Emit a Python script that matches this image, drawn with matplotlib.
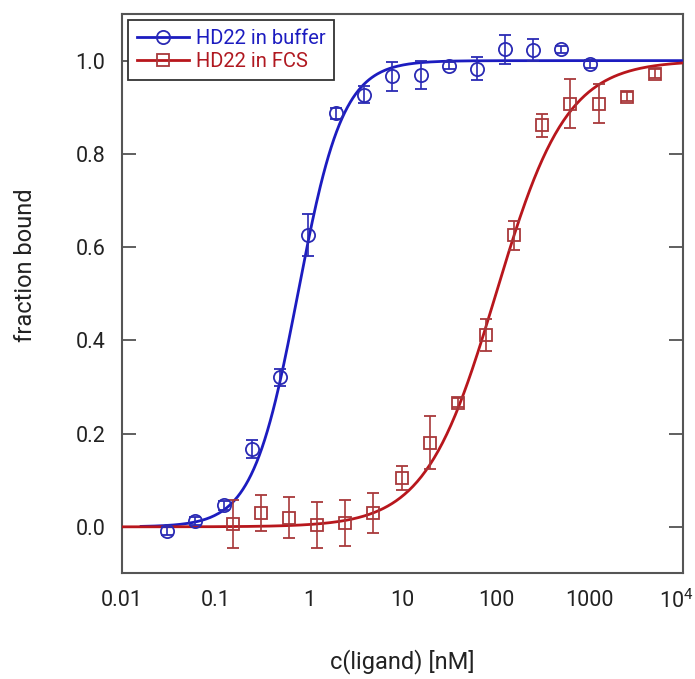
import numpy as np
import matplotlib.pyplot as plt
import matplotlib.transforms as mtransforms
from matplotlib.lines import Line2D
from matplotlib.ticker import FixedLocator, FixedFormatter, NullLocator

plt.rcParams['font.family'] = ['Roboto', 'DejaVu Sans']
plt.rcParams['mathtext.default'] = 'regular'

# measured points (dilution series)
conc_buffer = [0.0305, 0.061, 0.122, 0.244, 0.488, 0.977, 1.95, 3.9, 7.8, 15.6,
               31.25, 62.5, 125, 250, 500, 1000]
frac_buffer = [-0.009, 0.013, 0.046, 0.167, 0.321, 0.625, 0.887, 0.927, 0.966, 0.970,
               0.989, 0.983, 1.024, 1.023, 1.024, 0.993]
err_buffer = [0.008, 0.008, 0.010, 0.019, 0.018, 0.045, 0.012, 0.018, 0.031, 0.030,
              0.008, 0.025, 0.031, 0.023, 0.008, 0.008]

conc_fcs = [0.153, 0.305, 0.61, 1.22, 2.44, 4.88, 9.77, 19.5, 39, 78,
            156, 312, 625, 1250, 2500, 5000]
frac_fcs = [0.006, 0.030, 0.019, 0.004, 0.008, 0.030, 0.105, 0.180, 0.266, 0.411,
            0.625, 0.861, 0.908, 0.908, 0.923, 0.972]
err_fcs = [0.051, 0.039, 0.044, 0.050, 0.049, 0.043, 0.025, 0.057, 0.010, 0.034,
           0.031, 0.025, 0.052, 0.042, 0.010, 0.010]

# Hill fit parameters (K in nM, n)
K_buffer, n_buffer = 0.76, 1.8
K_fcs, n_fcs = 100.0, 1.15

xticks = [0.01, 0.1, 1, 10, 100, 1000, 1e4]
xticklabels = ['0.01', '0.1', '1', '10', '100', '1000', '10$^4$']
yticks = [0.0, 0.2, 0.4, 0.6, 0.8, 1.0]

blue = '#1c1cc0'
blue_pt = '#2a2ab4'
red = '#b8161c'
red_pt = '#a8383a'


def hill(c, K, n):
    return c**n / (K**n + c**n)


fig = plt.figure(figsize=(6.95, 6.79), dpi=100)
ax = fig.add_axes([122/695, 106/679, 561/695, 559/679])

xb = np.logspace(np.log10(0.016), 4, 400)
xr = np.logspace(-2, 4, 400)
ax.plot(xb, hill(xb, K_buffer, n_buffer), color=blue, lw=2.0, zorder=3)
ax.plot(xr, hill(xr, K_fcs, n_fcs), color=red, lw=2.0, zorder=3)

ax.errorbar(conc_buffer, frac_buffer, yerr=err_buffer, fmt='o', ms=9.5, mfc='none',
            mec=blue_pt, mew=1.3, ecolor=blue_pt, elinewidth=1.2, capsize=4, zorder=4)
ax.errorbar(conc_fcs, frac_fcs, yerr=err_fcs, fmt='s', ms=9, mfc='none',
            mec=red_pt, mew=1.3, ecolor=red_pt, elinewidth=1.2, capsize=4, zorder=4)

ax.set_xscale('log')
ax.set_xlim(0.01, 1e4)
ax.set_ylim(-0.099, 1.100)

ax.xaxis.set_major_locator(FixedLocator(xticks))
ax.xaxis.set_major_formatter(FixedFormatter(xticklabels))
ax.xaxis.set_minor_locator(NullLocator())
ax.set_yticks(yticks)
ax.set_yticklabels([f'{v:.1f}' for v in yticks])

ax.tick_params(axis='x', which='both', length=0, pad=12, labelsize=15.5, labelcolor='#222222')
ax.tick_params(axis='y', direction='in', length=10, width=1.2, color='#444444',
               right=True, pad=12, labelsize=15.5, labelcolor='#222222')
for s in ax.spines.values():
    s.set_color('#555555')
    s.set_linewidth(1.5)

# keep the 10^4 label inside the figure like the reference
last = ax.get_xticklabels()[-1]
last.set_transform(last.get_transform() +
                   mtransforms.ScaledTranslation(-7/100, 0, fig.dpi_scale_trans))

ax.set_xlabel('c(ligand) [nM]', fontsize=17, color='#222222')
ax.set_ylabel('fraction bound', fontsize=17, color='#222222')
ax.xaxis.set_label_coords(0.499, -0.136)
ax.yaxis.set_label_coords(-0.152, 0.55)

handles = [Line2D([], [], color=blue, lw=2.0, marker='o', ms=9.5, mfc='none', mec=blue_pt, mew=1.3),
           Line2D([], [], color=red, lw=2.0, marker='s', ms=9, mfc='none', mec=red_pt, mew=1.3)]
leg = ax.legend(handles, ['HD22 in buffer', 'HD22 in FCS'], loc='upper left',
                fontsize=14.5, frameon=True, fancybox=False, framealpha=1,
                edgecolor='#333333', borderaxespad=0.3, borderpad=0.45,
                labelspacing=0.2, handlelength=2.6, handletextpad=0.3)
leg.get_frame().set_linewidth(1.3)
leg.get_texts()[0].set_color(blue)
leg.get_texts()[1].set_color('#b01820')

fig.savefig('out.png', dpi=100)
